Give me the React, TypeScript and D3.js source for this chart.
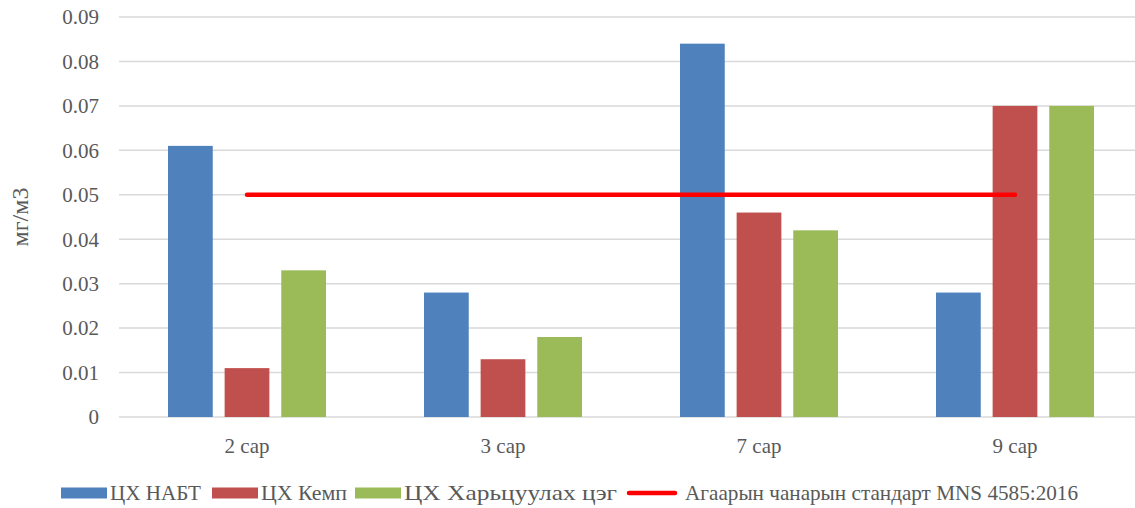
import { useEffect, useRef } from 'react';
import * as d3 from 'd3';

const categories = ['2 сар', '3 сар', '7 сар', '9 сар'];
const seriesNames = ['ЦХ НАБТ', 'ЦХ Кемп', 'ЦХ Харьцуулах цэг'];
const nabt = [0.061, 0.028, 0.084, 0.028];
const kemp = [0.011, 0.013, 0.046, 0.07];
const kharitsuulakh = [0.033, 0.018, 0.042, 0.07];
const standardName = 'Агаарын чанарын стандарт MNS 4585:2016';
const standard = [0.05, 0.05, 0.05, 0.05];
const yTicks = [0, 0.01, 0.02, 0.03, 0.04, 0.05, 0.06, 0.07, 0.08, 0.09];
const colors = ['#4f81bd', '#c0504d', '#9bbb59'];

export default function App() {
  const ref = useRef<HTMLDivElement>(null);
  useEffect(() => {
    document.body.style.margin = '0';
    const width = 1135;
    const height = 508;
    const marginLeft = 119;
    const plotRight = 1143;
    const marginTop = 17;
    const plotBottom = 417;
    const textColor = '#595959';

    const x = d3.scaleBand<string>()
      .domain(categories)
      .range([marginLeft, plotRight]);

    // three bars per month, 45px wide with 12px gaps
    const x1 = d3.scaleBand<number>()
      .domain([0, 1, 2])
      .range([49, x.bandwidth() - 49])
      .paddingInner(0.21);

    const y = d3.scaleLinear()
      .domain([0, 0.09])
      .range([plotBottom, marginTop]);

    const svg = d3.create('svg')
      .attr('width', width)
      .attr('height', height)
      .attr('viewBox', [0, 0, width, height])
      .style('font-family', 'Liberation Serif')
      .style('display', 'block');

    // gridlines
    svg.append('g')
      .selectAll('line')
      .data(yTicks)
      .join('line')
      .attr('x1', marginLeft)
      .attr('x2', plotRight)
      .attr('y1', (d) => y(d))
      .attr('y2', (d) => y(d))
      .attr('stroke', '#d9d9d9')
      .attr('stroke-width', 1.5);

    // y tick labels
    svg.append('g')
      .selectAll('text')
      .data(yTicks)
      .join('text')
      .attr('x', 99)
      .attr('y', (d) => y(d))
      .attr('dy', '0.35em')
      .attr('text-anchor', 'end')
      .attr('fill', textColor)
      .attr('font-size', 21)
      .text((d) => (d === 0 ? '0' : d.toFixed(2)));

    svg.append('text')
      .attr('transform', `translate(28,${(marginTop + plotBottom) / 2}) rotate(-90)`)
      .attr('text-anchor', 'middle')
      .attr('fill', textColor)
      .attr('font-size', 24)
      .text('мг/м3');

    const series = [nabt, kemp, kharitsuulakh];
    series.forEach((vals, si) => {
      svg.append('g')
        .attr('fill', colors[si])
        .selectAll('rect')
        .data(vals)
        .join('rect')
        .attr('x', (_, i) => x(categories[i])! + x1(si)!)
        .attr('width', x1.bandwidth())
        .attr('y', (d) => y(d))
        .attr('height', (d) => y(0) - y(d));
    });

    // standard line
    const line = d3.line<number>()
      .x((_, i) => x(categories[i])! + x.bandwidth() / 2)
      .y((d) => y(d));
    svg.append('path')
      .datum(standard)
      .attr('d', line)
      .attr('fill', 'none')
      .attr('stroke', '#ff0000')
      .attr('stroke-width', 4.5)
      .attr('stroke-linecap', 'round');

    // x labels
    svg.append('g')
      .selectAll('text')
      .data(categories)
      .join('text')
      .attr('x', (d) => x(d)! + x.bandwidth() / 2)
      .attr('y', 453)
      .attr('text-anchor', 'middle')
      .attr('fill', textColor)
      .attr('font-size', 21)
      .text((d) => d);

    // legend
    const ly = 493;
    const legend = svg.append('g').attr('font-size', 21).attr('fill', textColor);
    const swatchX = [61, 212, 355];
    const labelWidths = [91, 86, 213];
    seriesNames.forEach((name, i) => {
      legend.append('rect')
        .attr('x', swatchX[i])
        .attr('y', ly - 5.5)
        .attr('width', 46)
        .attr('height', 11)
        .attr('fill', colors[i]);
      legend.append('text')
        .attr('x', swatchX[i] + 49)
        .attr('y', ly)
        .attr('dy', '0.35em')
        .attr('textLength', labelWidths[i])
        .attr('lengthAdjust', 'spacingAndGlyphs')
        .text(name);
    });
    legend.append('line')
      .attr('x1', 629)
      .attr('x2', 675)
      .attr('y1', ly)
      .attr('y2', ly)
      .attr('stroke', '#ff0000')
      .attr('stroke-width', 4.5)
      .attr('stroke-linecap', 'round');
    legend.append('text')
      .attr('x', 685)
      .attr('y', ly)
      .attr('dy', '0.35em')
      .attr('textLength', 393)
      .attr('lengthAdjust', 'spacingAndGlyphs')
      .text(standardName);

    const node = svg.node()!;
    ref.current?.append(node);
    return () => {
      node.remove();
    };
  }, []);
  return <div ref={ref} style={{ overflow: 'hidden', width: 1135 }} />;
}
